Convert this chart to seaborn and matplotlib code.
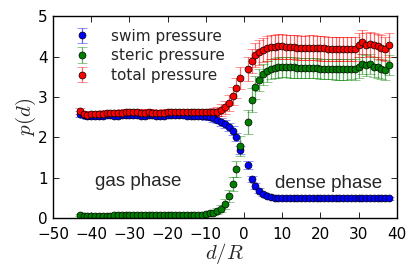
import numpy as np
import seaborn as sns
import matplotlib
matplotlib.use("Agg")
import matplotlib.pyplot as plt

# distance from the interface, no sample at d = 0
d = list(range(-43, 0)) + list(range(1, 39))

swim = [2.58, 2.55, 2.53, 2.52, 2.52, 2.53, 2.54, 2.55, 2.55, 2.54,
        2.54, 2.55, 2.55, 2.56, 2.56, 2.55, 2.54, 2.54, 2.55, 2.55,
        2.54, 2.53, 2.54, 2.55, 2.56, 2.56, 2.55, 2.55, 2.54, 2.54,
        2.54, 2.53, 2.53, 2.52, 2.50, 2.47, 2.44, 2.39, 2.33, 2.26,
        2.17, 2.00, 1.68,
        1.32, 0.97, 0.80, 0.68, 0.60, 0.55, 0.52, 0.50, 0.49, 0.49,
        0.49, 0.49, 0.49, 0.49, 0.49, 0.49, 0.49, 0.50, 0.50, 0.50,
        0.50, 0.51, 0.51, 0.51, 0.50, 0.50, 0.50, 0.51, 0.51, 0.50,
        0.50, 0.51, 0.51, 0.50, 0.50, 0.50, 0.49, 0.49]
swim_err = [0.07] * 33 + [0.08, 0.08, 0.09, 0.09, 0.1, 0.1, 0.1, 0.1, 0.1, 0.1] + \
           [0.1, 0.08, 0.07, 0.06, 0.05, 0.05] + [0.04] * 32

steric = [0.08, 0.06, 0.06, 0.06, 0.06, 0.06, 0.06, 0.06, 0.06, 0.07,
          0.07, 0.07, 0.07, 0.07, 0.07, 0.07, 0.07, 0.07, 0.07, 0.07,
          0.07, 0.07, 0.07, 0.07, 0.08, 0.08, 0.08, 0.08, 0.08, 0.08,
          0.08, 0.09, 0.09, 0.10, 0.12, 0.14, 0.18, 0.24, 0.36, 0.56,
          0.85, 1.22, 1.78,
          2.38, 2.93, 3.24, 3.42, 3.56, 3.64, 3.70, 3.72, 3.73, 3.74,
          3.74, 3.73, 3.73, 3.72, 3.71, 3.71, 3.72, 3.72, 3.71, 3.70,
          3.70, 3.69, 3.69, 3.68, 3.68, 3.68, 3.68, 3.69, 3.68, 3.73,
          3.82, 3.78, 3.82, 3.74, 3.73, 3.70, 3.67, 3.79]
steric_err = [0.02] * 33 + [0.03, 0.04, 0.05, 0.07, 0.09, 0.12, 0.15, 0.18, 0.2, 0.25] + \
             [0.3, 0.3, 0.28, 0.27, 0.26, 0.26] + [0.25] * 32

total = [2.65, 2.58, 2.56, 2.57, 2.57, 2.58, 2.59, 2.60, 2.60, 2.60,
         2.60, 2.61, 2.62, 2.62, 2.62, 2.62, 2.61, 2.61, 2.62, 2.61,
         2.60, 2.60, 2.61, 2.62, 2.63, 2.63, 2.63, 2.62, 2.62, 2.62,
         2.62, 2.62, 2.62, 2.62, 2.62, 2.62, 2.64, 2.68, 2.75, 2.86,
         3.03, 3.22, 3.47,
         3.70, 3.88, 4.03, 4.10, 4.16, 4.20, 4.23, 4.24, 4.25, 4.25,
         4.24, 4.24, 4.23, 4.22, 4.21, 4.21, 4.22, 4.22, 4.21, 4.20,
         4.20, 4.19, 4.19, 4.18, 4.18, 4.18, 4.18, 4.19, 4.19, 4.29,
         4.35, 4.29, 4.31, 4.29, 4.25, 4.22, 4.18, 4.29]
total_err = [0.08] * 33 + [0.08, 0.09, 0.1, 0.12, 0.14, 0.16, 0.2, 0.22, 0.25, 0.28] + \
            [0.3, 0.3, 0.3, 0.3, 0.3, 0.3] + [0.3] * 32

series = [("swim pressure", swim, swim_err, "blue"),
          ("steric pressure", steric, steric_err, "green"),
          ("total pressure", total, total_err, "red")]

sns.set_theme(style="ticks")
plt.rcParams.update({
    "xtick.direction": "in", "ytick.direction": "in",
    "xtick.top": True, "ytick.right": True,
    "xtick.major.size": 4, "ytick.major.size": 4,
    "xtick.major.width": 0.6, "ytick.major.width": 0.6,
    "axes.linewidth": 1.0, "axes.edgecolor": "black",
    "mathtext.fontset": "cm",
})
plt.rcParams["font.family"] = ["DejaVu Sans"]

fig, ax = plt.subplots(figsize=(4.15, 2.77), dpi=100)
fig.subplots_adjust(left=0.128, right=0.956, top=0.942, bottom=0.212)

for name, vals, err, col in series:
    cont = ax.errorbar(d, vals, yerr=err, fmt="o", color=col, ecolor=col,
                       markersize=5.0, markeredgecolor="black", markeredgewidth=0.5,
                       elinewidth=0.9, capsize=3.5, capthick=0.9, label=name)
    for c in cont[1]:
        c.set_alpha(0.6)
    for c in cont[2]:
        c.set_alpha(0.6)

ax.set_xlim(-50, 40)
ax.set_ylim(0, 5)
ax.set_xticks(range(-50, 41, 10))
ax.set_yticks(range(0, 6))
ax.tick_params(labelsize=11, colors="black")
ax.tick_params(axis="x", pad=6.5)
ax.tick_params(axis="y", pad=4)
ax.set_xlabel("$d/R$", fontsize=15, labelpad=-1)
ax.set_ylabel("$p(d)$", fontsize=15, labelpad=0)

ax.text(-27.8, 0.91, "gas phase", fontsize=13.5, ha="center", va="center",
        family=["Liberation Sans", "DejaVu Sans"])
ax.text(22.1, 0.87, "dense phase", fontsize=13.5, ha="center", va="center",
        family=["Liberation Sans", "DejaVu Sans"])

ax.legend(loc="upper left", bbox_to_anchor=(0.0175, 0.99), frameon=False,
          fontsize=11, handletextpad=1.1, labelspacing=0.3, borderaxespad=0.3,
          borderpad=0.4, handlelength=1.6, numpoints=1)

fig.savefig("out.png", dpi=100)
